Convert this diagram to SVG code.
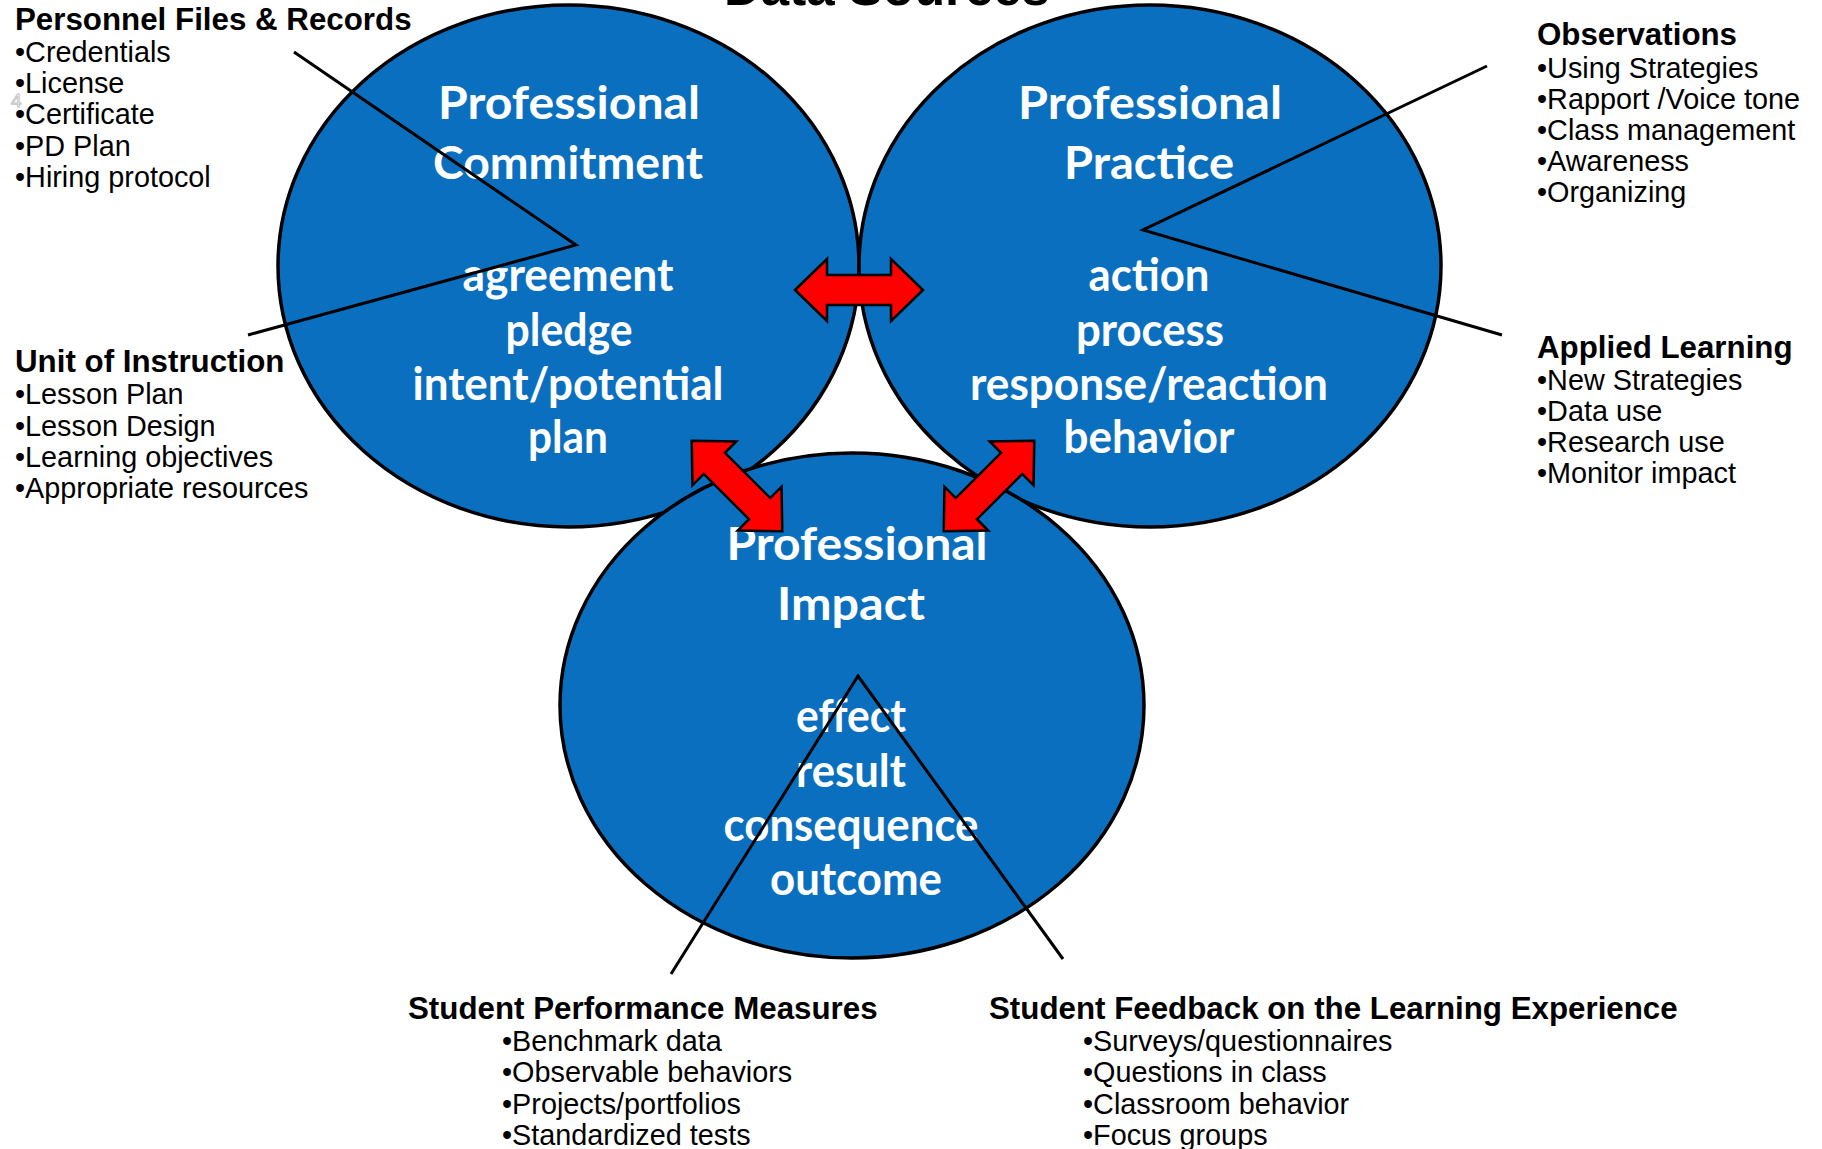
<svg xmlns="http://www.w3.org/2000/svg" xmlns:xlink="http://www.w3.org/1999/xlink" width="1822" height="1149" viewBox="0 0 1822 1149">
<style>
  .bubble { fill: #0B6FBF; stroke: #000; stroke-width: 3.5; }
  .w { font-family: Lato, "Open Sans", sans-serif; font-weight: 700; font-size: 46px; fill: #fff; text-anchor: middle; }
  .h { font-family: "Liberation Sans", Arial, sans-serif; font-weight: 700; font-size: 31.3px; fill: #000; }
  .i { font-family: "Liberation Sans", Arial, sans-serif; font-size: 28.8px; fill: #000; }
  .title { font-family: "Liberation Sans", Arial, sans-serif; font-weight: 700; font-size: 51px; fill: #000; text-anchor: middle; }
  .line { fill: none; stroke: #000; stroke-width: 3; stroke-linejoin: miter; }
  .arrow { fill: #FF0000; stroke: #000; stroke-width: 2.5; stroke-linejoin: miter; }
</style>
<defs>
  <polygon id="dblarrow" points="-64,0 -32,-31 -32,-15 32,-15 32,-31 64,0 32,31 32,15 -32,15 -32,31"/>
</defs>
<rect x="0" y="0" width="1822" height="1149" fill="#fff"/>

<text class="title" x="887" y="5">Data Sources</text>

<g id="node-commitment">
  <ellipse class="bubble" cx="568.5" cy="266" rx="290.5" ry="261"/>
  <text class="w" x="569" y="119" textLength="262" lengthAdjust="spacingAndGlyphs">Professional</text>
  <text class="w" x="568" y="179" textLength="270" lengthAdjust="spacingAndGlyphs">Commitment</text>
  <text class="w" x="568" y="291" textLength="211" lengthAdjust="spacingAndGlyphs">agreement</text>
  <text class="w" x="569" y="346" textLength="127" lengthAdjust="spacingAndGlyphs">pledge</text>
  <text class="w" x="568" y="400" textLength="311" lengthAdjust="spacingAndGlyphs">intent/potential</text>
  <text class="w" x="568" y="453" textLength="80" lengthAdjust="spacingAndGlyphs">plan</text>
</g>

<g id="node-practice">
  <ellipse class="bubble" cx="1150" cy="266" rx="291" ry="261"/>
  <text class="w" x="1150" y="119" textLength="264" lengthAdjust="spacingAndGlyphs">Professional</text>
  <text class="w" x="1149" y="179" textLength="170" lengthAdjust="spacingAndGlyphs">Practice</text>
  <text class="w" x="1149" y="291" textLength="121" lengthAdjust="spacingAndGlyphs">action</text>
  <text class="w" x="1150" y="346" textLength="148" lengthAdjust="spacingAndGlyphs">process</text>
  <text class="w" x="1149" y="400" textLength="358" lengthAdjust="spacingAndGlyphs">response/reaction</text>
  <text class="w" x="1149" y="453" textLength="171" lengthAdjust="spacingAndGlyphs">behavior</text>
</g>

<g id="node-impact">
  <ellipse class="bubble" cx="852" cy="705.5" rx="292" ry="252.5"/>
  <text class="w" x="857" y="560" textLength="261" lengthAdjust="spacingAndGlyphs">Professional</text>
  <text class="w" x="851" y="620" textLength="148" lengthAdjust="spacingAndGlyphs">Impact</text>
  <text class="w" x="851" y="732" textLength="110" lengthAdjust="spacingAndGlyphs">effect</text>
  <text class="w" x="851" y="787" textLength="110" lengthAdjust="spacingAndGlyphs">result</text>
  <text class="w" x="851" y="841" textLength="255" lengthAdjust="spacingAndGlyphs">consequence</text>
  <text class="w" x="856" y="895" textLength="172" lengthAdjust="spacingAndGlyphs">outcome</text>
</g>

<g id="connectors">
  <polyline class="line" points="294,52 576,245 248,335"/>
  <polyline class="line" points="1487,66 1143,230 1502,335"/>
  <polyline class="line" points="671,974 858,676 1063,959"/>
  <use xlink:href="#dblarrow" class="arrow" transform="translate(859,290)"/>
  <use xlink:href="#dblarrow" class="arrow" transform="translate(737,486) rotate(45)"/>
  <use xlink:href="#dblarrow" class="arrow" transform="translate(989,486) rotate(-45)"/>
</g>

<g id="label-personnel">
  <text class="h" x="15" y="30">Personnel Files &amp; Records</text>
  <text class="i" x="15" y="62">•Credentials</text>
  <text class="i" x="15" y="93">•License</text>
  <text class="i" x="15" y="124">•Certificate</text>
  <text class="i" x="15" y="155.5">•PD Plan</text>
  <text class="i" x="15" y="186.5">•Hiring protocol</text>
  <text x="11" y="107" font-family="Liberation Sans, sans-serif" font-size="19" fill="none" stroke="#c4c4c4" stroke-width="1">4</text>
</g>

<g id="label-unit">
  <text class="h" x="15" y="372">Unit of Instruction</text>
  <text class="i" x="15" y="404">•Lesson Plan</text>
  <text class="i" x="15" y="435.5">•Lesson Design</text>
  <text class="i" x="15" y="466.5">•Learning objectives</text>
  <text class="i" x="15" y="497.5">•Appropriate resources</text>
</g>

<g id="label-observations">
  <text class="h" x="1537" y="44.5">Observations</text>
  <text class="i" x="1537" y="77.5">•Using Strategies</text>
  <text class="i" x="1537" y="108.5">•Rapport /Voice tone</text>
  <text class="i" x="1537" y="139.5">•Class management</text>
  <text class="i" x="1537" y="171">•Awareness</text>
  <text class="i" x="1537" y="202">•Organizing</text>
</g>

<g id="label-applied">
  <text class="h" x="1537" y="357.5">Applied Learning</text>
  <text class="i" x="1537" y="389.5">•New Strategies</text>
  <text class="i" x="1537" y="420.5">•Data use</text>
  <text class="i" x="1537" y="451.5">•Research use</text>
  <text class="i" x="1537" y="482.5">•Monitor impact</text>
</g>

<g id="label-performance">
  <text class="h" x="408" y="1018.5">Student Performance Measures</text>
  <text class="i" x="502" y="1050.5">•Benchmark data</text>
  <text class="i" x="502" y="1082">•Observable behaviors</text>
  <text class="i" x="502" y="1113.5">•Projects/portfolios</text>
  <text class="i" x="502" y="1144.5">•Standardized tests</text>
</g>

<g id="label-feedback">
  <text class="h" x="989" y="1018.5">Student Feedback on the Learning Experience</text>
  <text class="i" x="1083" y="1050.5">•Surveys/questionnaires</text>
  <text class="i" x="1083" y="1082">•Questions in class</text>
  <text class="i" x="1083" y="1113.5">•Classroom behavior</text>
  <text class="i" x="1083" y="1144.5">•Focus groups</text>
</g>
</svg>
